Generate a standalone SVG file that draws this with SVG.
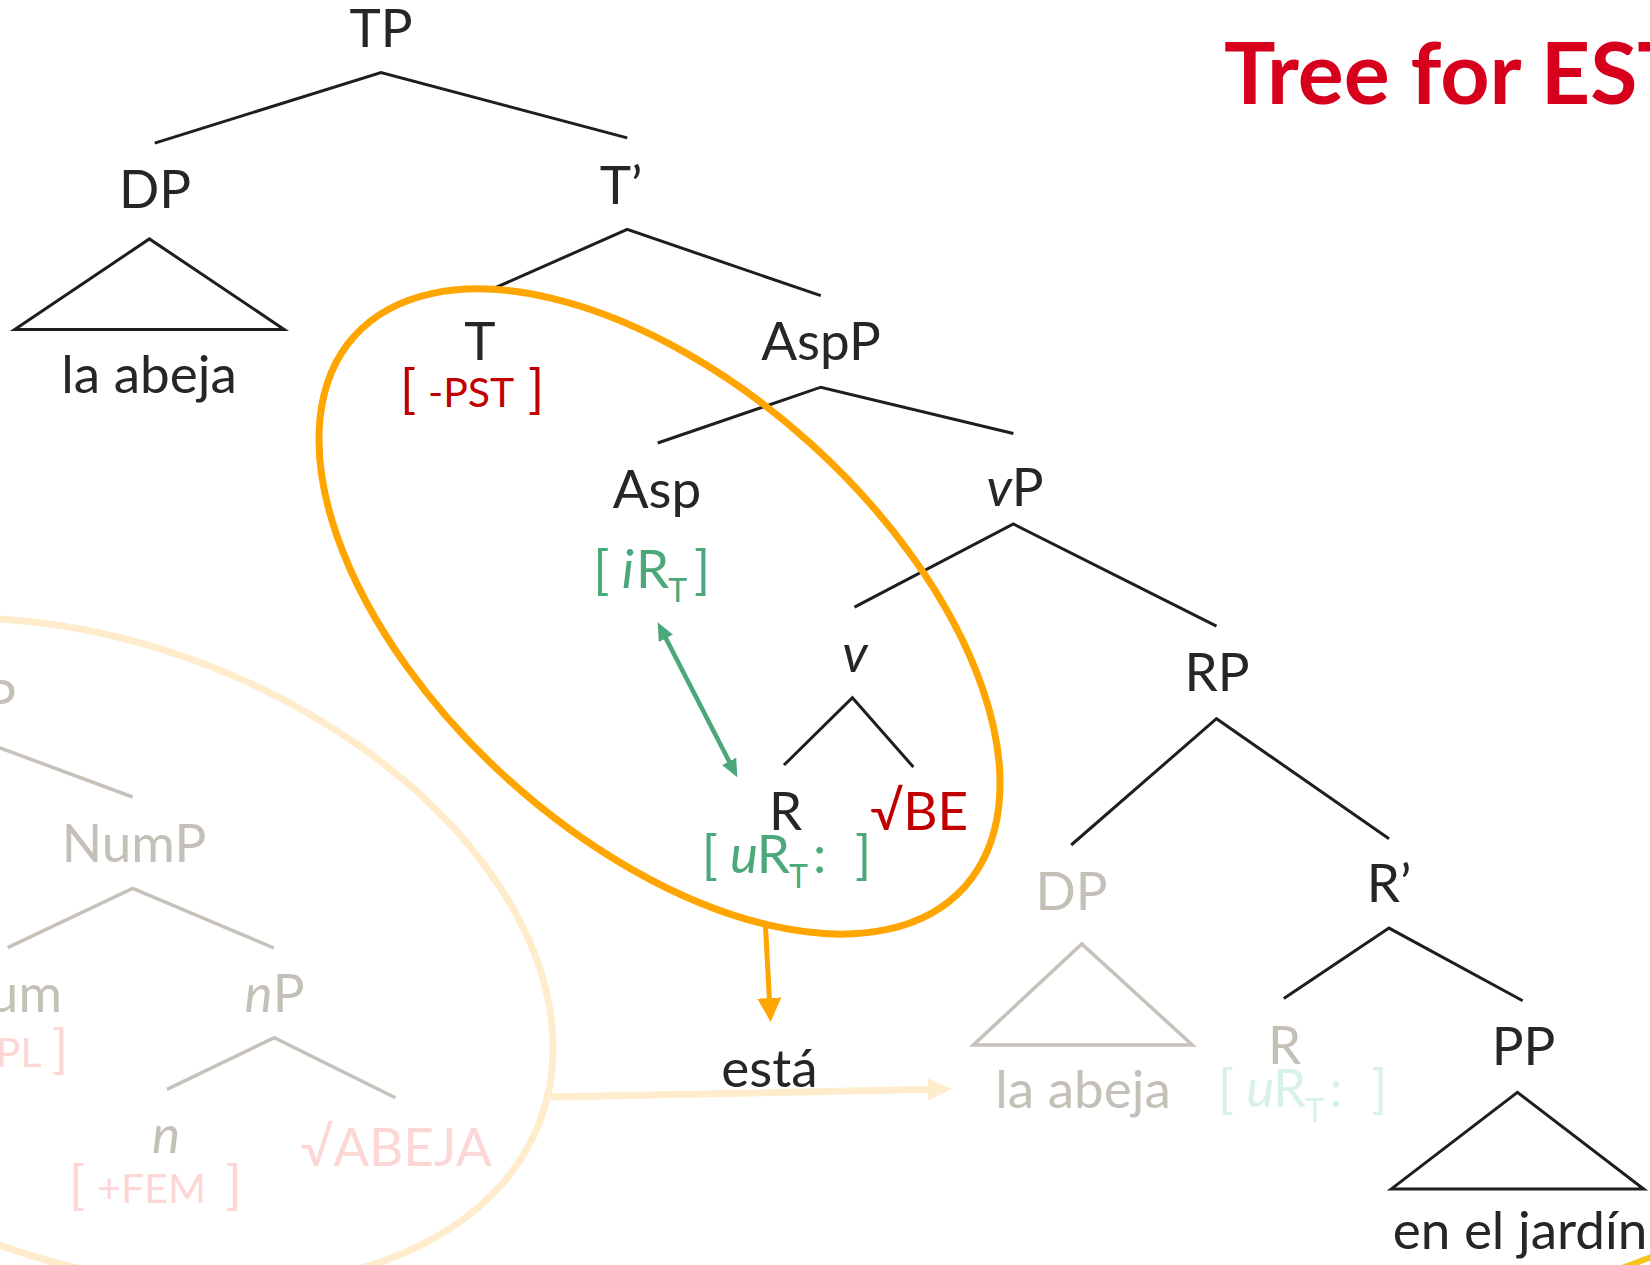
<svg xmlns="http://www.w3.org/2000/svg" width="1650" height="1265" viewBox="0 0 1650 1265">
  <style>
    text { font-family: Lato, "DejaVu Sans", sans-serif; }
    .lbl { font-size: 53px; fill: #262626; text-anchor: middle; }
    .gry { font-size: 53px; fill: #C4BFB7; text-anchor: middle; }
    .end { text-anchor: end; }
    .start { text-anchor: start; }
    .it { font-style: italic; }
    .feat { font-size: 53px; }
    .sc { font-size: 41px; }
    .sub { font-size: 32px; }
    .red { fill: #C00000; }
    .pink { fill: #FDD6D6; }
    .grn { fill: #4AA87B; }
    .pale { fill: #D8F1E9; }
    .title { font-size: 86px; font-weight: 700; fill: #D6001C; }
    .br { fill: none; stroke: #1E1E1E; stroke-width: 3; stroke-linejoin: miter; }
    .gbr { fill: none; stroke: #C6C1B9; stroke-width: 3.5; }
  </style>
  <defs>
    <marker id="ahGreen" markerUnits="userSpaceOnUse" viewBox="0 0 18 16" markerWidth="18" markerHeight="16" refX="7" refY="8" orient="auto-start-reverse">
      <path d="M0,0 L18,8 L0,16 z" fill="#4AA87B"/>
    </marker>
    <marker id="ahOrange" markerUnits="userSpaceOnUse" viewBox="0 0 24 24" markerWidth="24" markerHeight="24" refX="10" refY="12" orient="auto">
      <path d="M0,0 L24,12 L0,24 z" fill="#FFA500"/>
    </marker>
    <marker id="ahPale" markerUnits="userSpaceOnUse" viewBox="0 0 24 22" markerWidth="24" markerHeight="22" refX="10" refY="11" orient="auto">
      <path d="M0,0 L24,11 L0,22 z" fill="#FFECCC"/>
    </marker>
  </defs>

  <rect width="1650" height="1265" fill="#FFFFFF"/>

  <!-- faded nominal subtree (DP > NumP > nP) -->
  <g id="faded-subtree">
    <polyline class="gbr" points="-140,696 132.6,797"/>
    <polyline class="gbr" points="7.7,947.7 132.7,888.5 274,948"/>
    <polyline class="gbr" points="167,1089.3 274.2,1037.7 395.4,1097.7"/>
    <g id="n-DP-faded"><text class="gry end" x="16" y="718">DP</text></g>
    <g id="n-NumP"><text class="gry" x="134" y="862">NumP</text></g>
    <g id="n-Num">
      <text class="gry end" x="62" y="1012">Num</text>
      <text class="feat pink end" y="1066.7"><tspan x="-22">[</tspan><tspan class="sc" x="41.5">+PL</tspan><tspan x="68.2">]</tspan></text>
    </g>
    <g id="n-nP"><text class="gry" x="274.5" y="1012"><tspan class="it">n</tspan>P</text></g>
    <g id="n-n">
      <text class="gry it" x="166" y="1153">n</text>
      <text class="feat pink" y="1203.3"><tspan x="69">[</tspan><tspan class="sc" x="97.3">+FEM</tspan><tspan x="225.4">]</tspan></text>
    </g>
    <g id="n-ABEJA"><text class="feat pink" x="300" y="1166">√ABEJA</text></g>
  </g>

  <!-- main tree branches -->
  <g id="connectors">
    <polyline class="br" points="154.7,143.1 381,72.6 627.2,137.9"/>
    <polygon class="br" points="14.7,329.4 149.4,238.9 284.1,329.4"/>
    <polyline class="br" points="489.3,290.4 627.2,229.4 820.8,295.7"/>
    <polyline class="br" points="657.7,443 820.8,387.2 1013.4,433.5"/>
    <polyline class="br" points="854.5,607.2 1013.4,524 1216.5,626.1"/>
    <polyline class="br" points="784,765 852.4,697.7 913.4,767.1"/>
    <polyline class="br" points="1071.2,845 1216.5,718.7 1389,838.7"/>
    <polyline class="br" points="1283.8,998.6 1389,928.1 1522.7,1000.7"/>
    <polygon class="gbr" points="973.4,1044.9 1081.8,943.9 1192.3,1044.9"/>
    <polygon class="br" points="1391.1,1189.1 1517.4,1092.3 1643.7,1189.1"/>
    <!-- agreement between Asp and R -->
    <line x1="662.7" y1="632.1" x2="732.3" y2="767.5" stroke="#4AA87B" stroke-width="4.5" marker-start="url(#ahGreen)" marker-end="url(#ahGreen)"/>
    <!-- spell-out arrows -->
    <line x1="765.5" y1="926" x2="769.9" y2="1008" stroke="#FFA500" stroke-width="5" marker-end="url(#ahOrange)"/>
    <line x1="551" y1="1097" x2="938" y2="1089.3" stroke="#FFECCC" stroke-width="7" marker-end="url(#ahPale)"/>
  </g>

  <!-- spans grouped for spell-out -->
  <ellipse cx="95" cy="952" rx="476" ry="308" transform="rotate(20.9 95 952)" fill="none" stroke="#FFECCC" stroke-width="7"/>
  <ellipse cx="659.5" cy="611.5" rx="411" ry="226" transform="rotate(42.1 659.5 611.5)" fill="none" stroke="#FFA500" stroke-width="7"/>
  <path d="M1622,1268 Q1636,1263 1654,1256" fill="none" stroke="#F6C51A" stroke-width="6"/>

  <!-- nodes -->
  <g id="n-TP"><text class="lbl" x="381" y="46.5">TP</text></g>
  <g id="n-DP"><text class="lbl" x="155" y="208">DP</text><text class="lbl" x="149" y="393">la abeja</text></g>
  <g id="n-Tbar"><text class="lbl" x="621" y="204">T’</text></g>
  <g id="n-T">
    <text class="lbl" x="480" y="360">T</text>
    <text class="feat red" y="406.7"><tspan x="400">[</tspan><tspan class="sc" x="428">-PST</tspan><tspan x="528">]</tspan></text>
  </g>
  <g id="n-AspP"><text class="lbl" x="821" y="360">AspP</text></g>
  <g id="n-Asp">
    <text class="lbl" x="657" y="508">Asp</text>
    <text class="feat grn" y="588.3"><tspan x="593.3">[</tspan><tspan class="it" x="621.7">i</tspan><tspan x="636">R</tspan><tspan class="sub" x="668.3" y="602">T</tspan><tspan x="694" y="588.3">]</tspan></text>
  </g>
  <g id="n-vP"><text class="lbl" x="1015" y="506"><tspan class="it">v</tspan>P</text></g>
  <g id="n-v"><text class="lbl it" x="855" y="672">v</text></g>
  <g id="n-R">
    <text class="lbl" x="785.5" y="830">R</text>
    <text class="feat grn" y="872.7"><tspan x="701.7">[</tspan><tspan class="it" x="730">u</tspan><tspan x="756.7">R</tspan><tspan class="sub" x="789" y="888">T</tspan><tspan x="813" y="872.7">:</tspan><tspan x="855">]</tspan></text>
  </g>
  <g id="n-BE"><text class="feat red" x="870" y="830">√BE</text></g>
  <g id="n-esta"><text class="lbl" x="769.4" y="1086.7">está</text></g>
  <g id="n-RP"><text class="lbl" x="1217" y="691">RP</text></g>
  <g id="n-DP2"><text class="gry" x="1071.6" y="909.6">DP</text><text class="gry" x="1083" y="1107.6">la abeja</text></g>
  <g id="n-Rbar"><text class="lbl" x="1389" y="902">R’</text></g>
  <g id="n-R2">
    <text class="gry" x="1284.7" y="1063.5">R</text>
    <text class="feat pale" y="1106.8"><tspan x="1218">[</tspan><tspan class="it" x="1246.3">u</tspan><tspan x="1273">R</tspan><tspan class="sub" x="1305.3" y="1122.1">T</tspan><tspan x="1329.3" y="1106.8">:</tspan><tspan x="1371.3">]</tspan></text>
  </g>
  <g id="n-PP"><text class="lbl" x="1523.5" y="1065">PP</text><text class="lbl" x="1520" y="1249">en el jardín</text></g>

  <g id="title"><text class="title" x="1224" y="104">Tree for EST</text></g>
</svg>
